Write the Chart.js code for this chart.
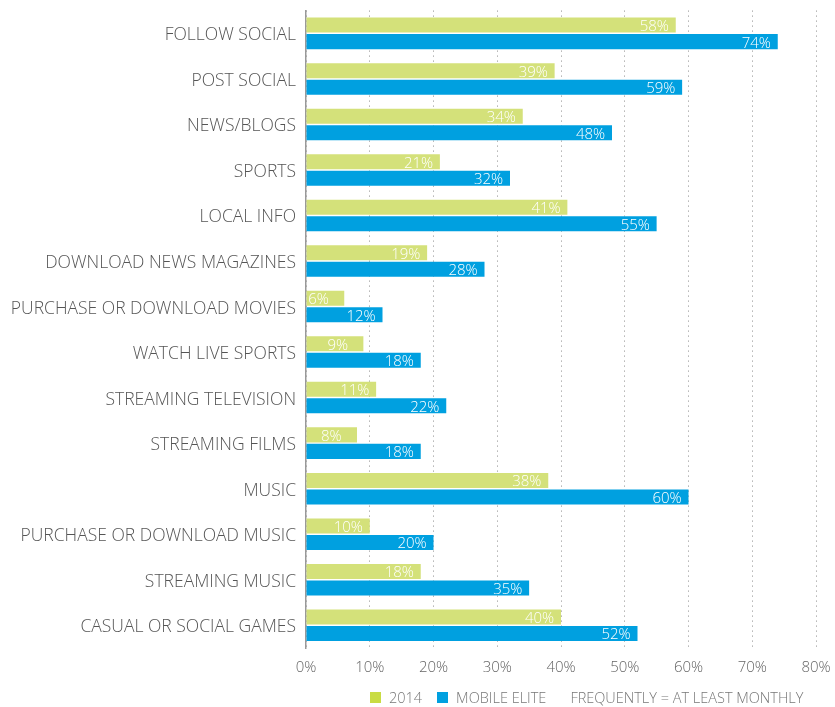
<!DOCTYPE html>
<html>
<head>
<meta charset="utf-8">
<script src="https://cdn.jsdelivr.net/npm/chart.js@4"></script>
<style>
  body { margin: 0; background: #fff; }
  .wrap { position: relative; width: 835px; height: 707px; }
  .legend {
    position: absolute; left: 370px; top: 688px;
    display: flex; align-items: center;
    font: 300 14.5px "Open Sans", sans-serif; color: #777;
    white-space: nowrap;
  }
  .legend .box { width: 11px; height: 11px; display: inline-block; margin-right: 8px; }
  .legend .item { display: flex; align-items: center; margin-right: 15px; }
  .legend .note { margin-left: 9px; }
</style>
</head>
<body>
<div class="wrap">
  <canvas id="myChart" width="835" height="707"></canvas>
  <div class="legend">
    <span class="item"><span class="box" style="background:#c9dc44"></span>2014</span>
    <span class="item"><span class="box" style="background:#00a0e0"></span>MOBILE ELITE</span>
    <span class="note">FREQUENTLY = AT LEAST MONTHLY</span>
  </div>
</div>
<script>
const categories = [
  "FOLLOW SOCIAL",
  "POST SOCIAL",
  "NEWS/BLOGS",
  "SPORTS",
  "LOCAL INFO",
  "DOWNLOAD NEWS MAGAZINES",
  "PURCHASE OR DOWNLOAD MOVIES",
  "WATCH LIVE SPORTS",
  "STREAMING TELEVISION",
  "STREAMING FILMS",
  "MUSIC",
  "PURCHASE OR DOWNLOAD MUSIC",
  "STREAMING MUSIC",
  "CASUAL OR SOCIAL GAMES",
];
const values2014 = [58, 39, 34, 21, 41, 19, 6, 9, 11, 8, 38, 10, 18, 40];
const valuesMobileElite = [74, 59, 48, 32, 55, 28, 12, 18, 22, 18, 60, 20, 35, 52];
const xTicks = [0, 10, 20, 30, 40, 50, 60, 70, 80];

const font = "'Open Sans', sans-serif";

// white percentage text at the end of each bar
const valueLabels = {
  id: "valueLabels",
  afterDatasetsDraw(chart) {
    const ctx = chart.ctx;
    ctx.save();
    ctx.font = "300 15px " + font;
    ctx.fillStyle = "#fff";
    ctx.textAlign = "left";
    ctx.textBaseline = "alphabetic";
    chart.data.datasets.forEach((ds, i) => {
      chart.getDatasetMeta(i).data.forEach((bar, j) => {
        ctx.fillText(ds.data[j] + "%", bar.x - 36, bar.y + bar.height / 2 - 1.5);
      });
    });
    ctx.restore();
  },
};

new Chart(document.getElementById("myChart").getContext("2d"), {
  type: "bar",
  data: {
    labels: categories,
    datasets: [
      {
        label: "2014",
        data: values2014,
        backgroundColor: "#d4e17a",
        categoryPercentage: 0.725,
        barPercentage: 0.91,
      },
      {
        label: "MOBILE ELITE",
        data: valuesMobileElite,
        backgroundColor: "#00a0e0",
        categoryPercentage: 0.725,
        barPercentage: 0.91,
      },
    ],
  },
  options: {
    indexAxis: "y",
    responsive: false,
    animation: false,
    layout: { padding: { top: 10.6, right: 19, bottom: 19, left: 0 } },
    plugins: {
      legend: { display: false },
      tooltip: { enabled: false },
    },
    scales: {
      x: {
        min: 0,
        max: 80,
        afterBuildTicks: (scale) => {
          scale.ticks = xTicks.map((v) => ({ value: v }));
        },
        afterFit: (scale) => {
          scale.paddingLeft = 0;
          scale.paddingRight = 0;
        },
        grid: { color: "#8c8c8c", lineWidth: 1, drawTicks: false },
        border: { display: false, dash: [1, 4] },
        ticks: {
          padding: 11,
          color: "#666",
          font: { family: font, size: 15, weight: "300" },
          callback: (v) => v + "%",
        },
      },
      y: {
        afterFit: (scale) => {
          scale.width = 306;
          scale.paddingTop = 0;
          scale.paddingBottom = 0;
        },
        grid: { display: false, drawTicks: false },
        border: { display: true, color: "#999", width: 1.5 },
        ticks: {
          padding: 10,
          labelOffset: 2,
          color: "#555",
          font: { family: font, size: 17.5, weight: "300" },
        },
      },
    },
  },
  plugins: [valueLabels],
});
</script>
</body>
</html>
